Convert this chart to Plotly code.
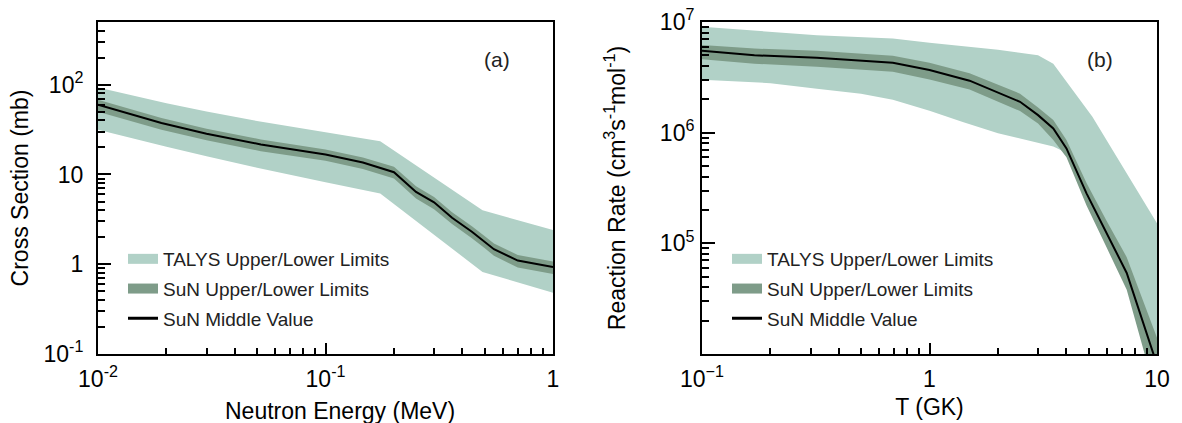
import plotly.graph_objects as go

# ---------------- Panel (a): cross section vs neutron energy ----------------
E_sun = [0.01, 0.019, 0.03, 0.052, 0.1, 0.146, 0.2, 0.25, 0.3, 0.36, 0.44, 0.5, 0.55, 0.7, 1.0]
sig_mid = [60, 37.5, 28.5, 21.6, 16.7, 13.6, 10.6, 6.4, 4.9, 3.3, 2.3, 1.8, 1.47, 1.1, 0.93]
sig_sun_up = [68, 42.5, 32.3, 24.6, 19, 15.5, 12.2, 7.4, 5.6, 3.8, 2.65, 2.07, 1.7, 1.27, 1.07]
sig_sun_lo = [50, 31.5, 24, 18.2, 14.2, 11.5, 9.0, 5.4, 4.1, 2.8, 1.95, 1.52, 1.24, 0.92, 0.78]
E_talys = [0.01, 0.02, 0.03, 0.05, 0.1, 0.174, 0.49, 1.0]
sig_talys_up = [93, 62, 50.2, 39.5, 29.6, 23.4, 4.0, 2.4]
sig_talys_lo = [31.6, 20.4, 16.0, 11.9, 8.2, 6.15, 0.82, 0.48]

# ---------------- Panel (b): reaction rate vs temperature ----------------
T_sun = [0.1, 0.17, 0.32, 0.69, 1.0, 1.5, 2.5, 3.0, 3.5, 4.0, 4.9, 6.0, 7.36, 10]
rate_mid = [5.5e6, 5.0e6, 4.75e6, 4.28e6, 3.68e6, 2.95e6, 1.90e6, 1.44e6, 1.09e6, 7.2e5, 2.83e5, 1.23e5, 5.4e4, 8.0e3]
rate_sun_up = [6.2e6, 5.75e6, 5.5e6, 4.95e6, 4.28e6, 3.45e6, 2.25e6, 1.69e6, 1.3e6, 8.6e5, 3.5e5, 1.6e5, 7.5e4, 1.4e4]
rate_sun_lo = [4.6e6, 4.2e6, 3.95e6, 3.55e6, 3.03e6, 2.45e6, 1.57e6, 1.21e6, 8.6e5, 6.0e5, 2.2e5, 9.2e4, 3.8e4, 4.0e3]
T_talys_up = [0.1, 0.32, 0.69, 1.0, 2.0, 3.0, 3.5, 5.2, 10]
rate_talys_up = [9.06e6, 7.6e6, 7.1e6, 6.5e6, 5.6e6, 5.0e6, 4.2e6, 1.39e6, 1.52e5]
T_talys_lo = [0.1, 0.2, 0.32, 0.5, 0.69, 1.0, 1.4, 2.0, 3.5, 4.0, 4.9, 6.0, 7.36, 10]
rate_talys_lo = [3.0e6, 2.8e6, 2.5e6, 2.25e6, 1.98e6, 1.58e6, 1.25e6, 9.9e5, 7.5e5, 6.6e5, 2.7e5, 1.15e5, 5.0e4, 7e3]

# tick labels
xa_tickvals = [0.01, 0.1, 1]
xa_ticktext = ["10<sup>-2</sup>", "10<sup>-1</sup>", "1"]
ya_tickvals = [0.1, 1, 10, 100]
ya_ticktext = ["10<sup>-1</sup>", "1", "10", "10<sup>2</sup>"]
xb_tickvals = [0.1, 1, 10]
xb_ticktext = ["10<sup>\u22121</sup>", "1", "10"]
yb_tickvals = [1e5, 1e6, 1e7]
yb_ticktext = ["10<sup>5</sup>", "10<sup>6</sup>", "10<sup>7</sup>"]

legend_names = ["TALYS Upper/Lower Limits", "SuN Upper/Lower Limits", "SuN Middle Value"]

LIGHT = "#b1d1c7"
DARK = "#7e9c89"
FONT = "Liberation Sans, Arial, Helvetica, sans-serif"

fig = go.Figure()


def add_panel(xaxis, yaxis, legend, xu, yu, xl, yl, xs, ys_up, ys_lo, ys_mid):
    fig.add_trace(go.Scatter(x=list(xu) + list(xl)[::-1], y=list(yu) + list(yl)[::-1],
                             fill="toself", fillcolor=LIGHT, mode="none", hoverinfo="skip",
                             showlegend=False, xaxis=xaxis, yaxis=yaxis))
    fig.add_trace(go.Scatter(x=list(xs) + list(xs)[::-1], y=list(ys_up) + list(ys_lo)[::-1],
                             fill="toself", fillcolor=DARK, mode="none", hoverinfo="skip",
                             showlegend=False, xaxis=xaxis, yaxis=yaxis))
    fig.add_trace(go.Scatter(x=xs, y=ys_mid, mode="lines", line=dict(color="black", width=2),
                             showlegend=False, xaxis=xaxis, yaxis=yaxis))
    # legend entries
    for name, col, w in zip(legend_names, [LIGHT, DARK, "black"], [10, 10, 3]):
        fig.add_trace(go.Scatter(x=[None], y=[None], mode="lines", name=name,
                                 line=dict(color=col, width=w), legend=legend,
                                 legendgroup=legend + name, xaxis=xaxis, yaxis=yaxis))


add_panel("x", "y", "legend", E_talys, sig_talys_up, E_talys, sig_talys_lo,
          E_sun, sig_sun_up, sig_sun_lo, sig_mid)
add_panel("x2", "y2", "legend2", T_talys_up, rate_talys_up, T_talys_lo, rate_talys_lo,
          T_sun, rate_sun_up, rate_sun_lo, rate_mid)

W, H = 1182, 423


def px_x(p):
    return p / W


def px_y(p):
    return (H - p) / H


TICKFONT = dict(family=FONT, size=23, color="black")
TITLEFONT = dict(family=FONT, size=23, color="black")

axis_common = dict(type="log", showgrid=False, zeroline=False, showline=True, linecolor="black",
                   linewidth=2, mirror=True, ticks="inside", tickcolor="black", tickwidth=2,
                   tickfont=TICKFONT, automargin=False)


def minor_vals(decades):
    return [m * 10 ** d for d in decades for m in range(2, 10)]


fig.update_layout(
    width=W, height=H, template="none",
    paper_bgcolor="white", plot_bgcolor="white",
    margin=dict(l=0, r=0, t=0, b=0),
    font=dict(family=FONT, color="black"),
    xaxis=dict(axis_common, domain=[px_x(98), px_x(553)], range=[-2, 0], anchor="y",
               tickmode="array", tickvals=xa_tickvals, ticktext=xa_ticktext, ticklen=11,
               ticklabelstandoff=3,
               minor=dict(tickmode="array", tickvals=minor_vals([-2, -1]), ticks="inside",
                          ticklen=6, tickwidth=1.5, tickcolor="black")),
    yaxis=dict(axis_common, domain=[px_y(354), px_y(22)], range=[-1, 2.699], anchor="x",
               tickmode="array", tickvals=ya_tickvals, ticktext=ya_ticktext, ticklen=13,
               ticklabelstandoff=8,
               minor=dict(tickmode="array", tickvals=minor_vals([-1, 0, 1, 2]), ticks="inside",
                          ticklen=7, tickwidth=1.5, tickcolor="black"),
               title=dict(text="Cross Section (mb)", font=TITLEFONT, standoff=8)),
    xaxis2=dict(axis_common, domain=[px_x(702), px_x(1157)], range=[-1, 1], anchor="y2",
                tickmode="array", tickvals=xb_tickvals, ticktext=xb_ticktext, ticklen=11,
                ticklabelstandoff=3,
                minor=dict(tickmode="array", tickvals=minor_vals([-1, 0]), ticks="inside",
                           ticklen=6, tickwidth=1.5, tickcolor="black"),
                title=dict(text="T (GK)", font=TITLEFONT, standoff=8)),
    yaxis2=dict(axis_common, domain=[px_y(354), px_y(22)], range=[4, 7], anchor="x2",
                tickmode="array", tickvals=yb_tickvals, ticktext=yb_ticktext, ticklen=13,
                ticklabelstandoff=1,
                minor=dict(tickmode="array", tickvals=minor_vals([4, 5, 6]), ticks="inside",
                           ticklen=7, tickwidth=1.5, tickcolor="black"),
                title=dict(text="Reaction Rate (cm<sup>3</sup>s<sup>-1</sup>mol<sup>-1</sup>)",
                           font=TITLEFONT, standoff=28)),
    legend=dict(x=px_x(123), y=px_y(240), xanchor="left", yanchor="top", bgcolor="rgba(0,0,0,0)",
                font=dict(family=FONT, size=19, color="#222222"), tracegroupgap=2,
                traceorder="grouped", itemwidth=30),
    legend2=dict(x=px_x(727), y=px_y(240), xanchor="left", yanchor="top", bgcolor="rgba(0,0,0,0)",
                 font=dict(family=FONT, size=19, color="#222222"), tracegroupgap=2,
                 traceorder="grouped", itemwidth=30),
    annotations=[
        # x-axis title of panel (a)
        dict(text="Neutron Energy (MeV)", xref="paper", yref="paper", x=px_x(339.5), y=px_y(411),
             xanchor="center", yanchor="middle", showarrow=False, font=TITLEFONT),
        dict(text="(a)", xref="paper", yref="paper", x=px_x(497), y=px_y(60), xanchor="center",
             yanchor="middle", showarrow=False, font=dict(family=FONT, size=21, color="#222222")),
        dict(text="(b)", xref="paper", yref="paper", x=px_x(1100), y=px_y(60), xanchor="center",
             yanchor="middle", showarrow=False, font=dict(family=FONT, size=21, color="#222222")),
    ],
)

fig.write_html("out.html")
